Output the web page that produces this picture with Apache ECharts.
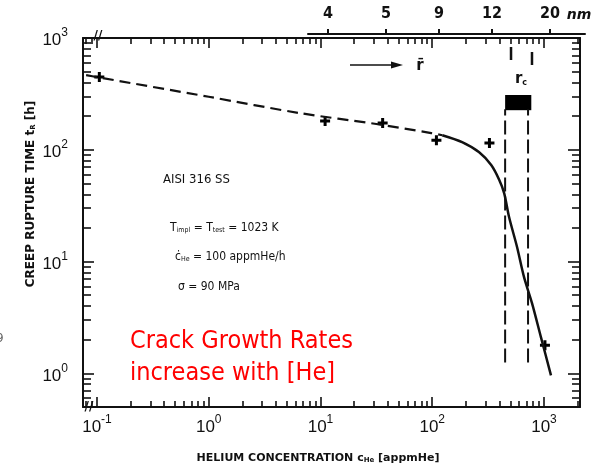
<!DOCTYPE html>
<html><head><meta charset="utf-8">
<script src="https://cdn.jsdelivr.net/npm/echarts@6/dist/echarts.min.js"></script>
<style>html,body{margin:0;padding:0;background:#fff}#c{width:603px;height:469px}</style>
</head><body><div id="c"></div>
<script>
// ---- axis ranges & tick labels ----
const xMin = 0.075, xMax = 2100, yMin = 0.5, yMax = 1000;
const xTickLabels = [0.1, 1, 10, 100, 1000];
const yTickLabels = [1, 10, 100, 1000];
// top mean bubble radius scale (nm) and where they sit on the He axis
const rTickLabels = ['4', '5', '9', '12', '20'];
const rTickPos = [11.7, 38.5, 115, 343, 1132];
const rAxisMin = 7.73, rAxisMax = 2328;
// ---- data ----
const dashedX = [0.08, 0.1, 1, 6.5, 31.6, 98, 123];
const dashedY = [465, 447, 298, 213, 170, 141, 135];
const solidX = [123, 185, 263, 337, 397, 440, 487, 574, 663, 781, 940, 1155];
const solidY = [135, 117, 95, 73, 54, 41, 25, 13.5, 7.25, 4.25, 2.1, 0.96];
const pointX = [0.105, 11, 36, 109, 325, 1020];
const pointY = [447, 181, 174, 122, 115, 1.78];
const rcLineX = [449, 720];
const rcLineY = [1.25, 230];
const rcBarX = [449, 770];
const rcBarY = [226, 309];
const rcMarkX = [507, 781];
const rcMarkYTop = [830, 750];
const rcMarkYBot = [635, 573];

function minorLog(lo, hi) {
  const out = [];
  for (let d = -2; d <= 4; d++) for (let k = 2; k <= 9; k++) {
    const v = +(k * Math.pow(10, d)).toPrecision(3);
    if (v > lo && v < hi) out.push(v);
  }
  return out;
}
const minorX = minorLog(xMin, xMax);
const minorY = minorLog(yMin, yMax);

const INK = '#111';
const tickFont = 'Liberation Sans';
const supRich = {
  a: { fontFamily: tickFont, fontSize: 17, lineHeight: 22, verticalAlign: 'bottom', color: INK },
  b: { fontFamily: tickFont, fontSize: 12, lineHeight: 14, verticalAlign: 'top', color: INK }
};
const powFmt = v => '{a|10}{b|' + Math.round(Math.log10(v)) + '}';

function logX(extra) {
  return Object.assign({
    type: 'log', gridIndex: 0, min: xMin, max: xMax, logBase: 10,
    splitLine: { show: false }, minorTick: { show: false },
    axisLine: { show: false }, axisLabel: { show: false }, axisTick: { show: false }
  }, extra);
}
function logY(extra) {
  return Object.assign({
    type: 'log', gridIndex: 0, min: yMin, max: yMax, logBase: 10,
    splitLine: { show: false }, minorTick: { show: false },
    axisLine: { show: false }, axisLabel: { show: false }, axisTick: { show: false }
  }, extra);
}
const axLine = { show: true, onZero: false, lineStyle: { color: INK, width: 2 } };
const tk = (len, vals) => ({ show: true, inside: true, length: len, customValues: vals, lineStyle: { color: INK, width: 1.6 } });

const chart = echarts.init(document.getElementById('c'), null, { renderer: 'canvas' });
const xy = (xs, ys) => xs.map((x, i) => [x, ys[i]]);

chart.setOption({
  animation: false,
  backgroundColor: '#fff',
  grid: [
    { left: 83, right: 23, top: 38, bottom: 62 },
    { left: 308, right: 18, top: 34, height: 1 }
  ],
  xAxis: [
    logX({ position: 'bottom', axisLine: axLine, axisTick: tk(10, xTickLabels),
      axisLabel: { show: true, customValues: xTickLabels, margin: 7, formatter: powFmt, rich: supRich } }),
    logX({ position: 'bottom', axisTick: tk(6, minorX) }),
    logX({ position: 'top', axisLine: axLine, axisTick: tk(10, xTickLabels) }),
    logX({ position: 'top', axisTick: tk(6, minorX) }),
    { type: 'log', gridIndex: 1, position: 'top', min: rAxisMin, max: rAxisMax,
      splitLine: { show: false }, minorTick: { show: false },
      axisLine: { show: true, onZero: false, lineStyle: { color: INK, width: 2 } },
      axisTick: { show: true, inside: false, length: 5, customValues: rTickPos, lineStyle: { color: INK, width: 2 } },
      axisLabel: { show: true, customValues: rTickPos, margin: 12,
        fontFamily: 'DejaVu Sans Condensed', fontSize: 16, fontWeight: 'bold', color: INK,
        formatter: v => {
          let best = 0;
          rTickPos.forEach((p, i) => { if (Math.abs(Math.log(p / v)) < Math.abs(Math.log(rTickPos[best] / v))) best = i; });
          return rTickLabels[best];
        } } }
  ],
  yAxis: [
    logY({ position: 'left', axisLine: axLine, axisTick: tk(11, yTickLabels),
      axisLabel: { show: true, customValues: yTickLabels, margin: 15, formatter: powFmt, rich: supRich } }),
    logY({ position: 'left', axisTick: tk(8, minorY) }),
    logY({ position: 'right', axisLine: axLine, axisTick: tk(12, yTickLabels) }),
    logY({ position: 'right', axisTick: tk(8, minorY) }),
    { type: 'value', gridIndex: 1, show: false }
  ],
  series: [
    { type: 'line', xAxisIndex: 0, yAxisIndex: 0, data: xy(dashedX, dashedY), showSymbol: false, smooth: 0.3,
      lineStyle: { color: INK, width: 2.2, type: [11, 6] } },
    { type: 'line', xAxisIndex: 0, yAxisIndex: 0, data: xy(solidX, solidY), showSymbol: false, smooth: 0.3,
      lineStyle: { color: INK, width: 2.5 } },
    { type: 'scatter', xAxisIndex: 0, yAxisIndex: 0, data: xy(pointX, pointY),
      symbol: 'path://M3.5,0H6.5V3.5H10V6.5H6.5V10H3.5V6.5H0V3.5H3.5Z', symbolSize: 10, itemStyle: { color: '#000', opacity: 1 } },
    { type: 'line', xAxisIndex: 0, yAxisIndex: 0, data: [[rcLineX[0], rcLineY[0]], [rcLineX[0], rcLineY[1]]], showSymbol: false,
      lineStyle: { color: INK, width: 2, type: [14, 5] },
      markArea: { silent: true, itemStyle: { color: '#000' },
        data: [[{ coord: [rcBarX[0], rcBarY[1]] }, { coord: [rcBarX[1], rcBarY[0]] }]] } },
    { type: 'line', xAxisIndex: 0, yAxisIndex: 0, data: [[rcLineX[1], rcLineY[0]], [rcLineX[1], rcLineY[1]]], showSymbol: false,
      lineStyle: { color: INK, width: 2, type: [14, 5] } },
    { type: 'line', xAxisIndex: 0, yAxisIndex: 0, data: [[rcMarkX[0], rcMarkYTop[0]], [rcMarkX[0], rcMarkYBot[0]]], showSymbol: false,
      lineStyle: { color: INK, width: 2.5 } },
    { type: 'line', xAxisIndex: 0, yAxisIndex: 0, data: [[rcMarkX[1], rcMarkYTop[1]], [rcMarkX[1], rcMarkYBot[1]]], showSymbol: false,
      lineStyle: { color: INK, width: 2.5 } }
  ],
  graphic: [
    { type: 'text', x: 31, y: 194, rotation: Math.PI / 2, style: {
      text: 'CREEP RUPTURE TIME t{s|R} [h]', align: 'center', verticalAlign: 'middle',
      font: 'bold 12px "DejaVu Sans"', fill: INK,
      rich: { s: { fontSize: 7, fontWeight: 'bold', fontFamily: 'DejaVu Sans', verticalAlign: 'bottom', fill: INK } } } },
    { type: 'text', x: 318, y: 458, style: {
      text: 'HELIUM CONCENTRATION c{s|He} [appmHe]', align: 'center', verticalAlign: 'middle',
      font: 'bold 11px "DejaVu Sans"', fill: INK,
      rich: { s: { fontSize: 7, fontWeight: 'bold', fontFamily: 'DejaVu Sans', verticalAlign: 'bottom', fill: INK } } } },
    { type: 'text', x: 163, y: 180, style: { text: 'AISI 316 SS', verticalAlign: 'middle',
      font: '13px "DejaVu Sans Condensed"', fill: INK } },
    { type: 'text', x: 170, y: 228, style: { text: 'T{s|impl} = T{s|test} = 1023 K', verticalAlign: 'middle',
      font: '12px "DejaVu Sans Condensed"', fill: INK,
      rich: { s: { fontSize: 7, fontFamily: 'DejaVu Sans Condensed', verticalAlign: 'bottom', fill: INK } } } },
    { type: 'text', x: 175, y: 257, style: { text: 'ċ{s|He} = 100 appmHe/h', verticalAlign: 'middle',
      font: '12px "DejaVu Sans Condensed"', fill: INK,
      rich: { s: { fontSize: 7, fontFamily: 'DejaVu Sans Condensed', verticalAlign: 'bottom', fill: INK } } } },
    { type: 'text', x: 178, y: 287, style: { text: 'σ = 90 MPa', verticalAlign: 'middle',
      font: '12px "DejaVu Sans Condensed"', fill: INK } },
    { type: 'text', x: 130, y: 325, style: { text: 'Crack Growth Rates\nincrease with [He]',
      verticalAlign: 'top', lineHeight: 32, font: '25px "DejaVu Sans Condensed"', fill: '#f00' } },
    { type: 'line', shape: { x1: 350, y1: 65, x2: 394, y2: 65 }, style: { stroke: INK, lineWidth: 1.6 } },
    { type: 'polygon', shape: { points: [[391, 61.5], [403, 65], [391, 68.5]] }, style: { fill: INK } },
    { type: 'text', x: 420, y: 66, style: { text: 'r\u0304', align: 'center', verticalAlign: 'middle',
      font: 'bold 15px "DejaVu Sans"', fill: INK } },
    { type: 'text', x: 521, y: 79, style: { text: 'r{s|c}', align: 'center', verticalAlign: 'middle',
      font: 'bold 15px "DejaVu Sans"', fill: INK,
      rich: { s: { fontSize: 8, fontWeight: 'bold', fontFamily: 'DejaVu Sans', verticalAlign: 'bottom', fill: INK } } } },
    { type: 'text', x: 579, y: 15, style: { text: 'nm', align: 'center', verticalAlign: 'middle',
      font: 'bold italic 14px "DejaVu Sans"', fill: INK } },
    { type: 'text', x: 98, y: 36, style: { text: '//', align: 'center', verticalAlign: 'middle',
      font: 'bold 12px "DejaVu Sans"', fill: INK } },
    { type: 'text', x: 89, y: 407, style: { text: '//', align: 'center', verticalAlign: 'middle',
      font: 'bold 12px "DejaVu Sans"', fill: INK } },
    { type: 'text', x: -4, y: 339, style: { text: '9', verticalAlign: 'middle',
      font: '12px "DejaVu Sans"', fill: '#666' } }
  ]
});
</script></body></html>
